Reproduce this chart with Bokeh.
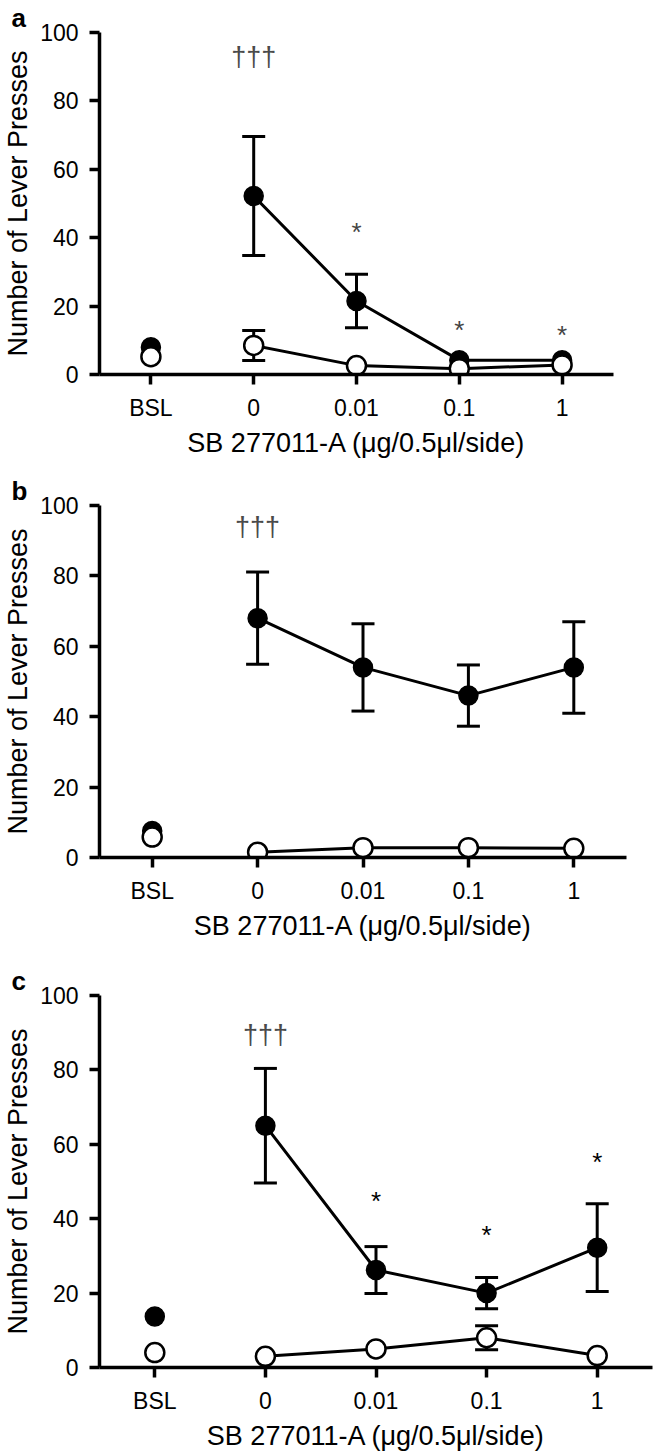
from bokeh.plotting import figure
from bokeh.models import (FactorRange, Range1d, Whisker, TeeHead, ColumnDataSource,
                          FixedTicker, Title)
from bokeh.layouts import column
from bokeh.core.properties import value
from bokeh.embed import file_html
from bokeh.resources import INLINE

FONT = "Liberation Sans"

categories = ["BSL", "0", "0.01", "0.1", "1"]
doses = ["0", "0.01", "0.1", "1"]
y_ticks = [0, 20, 40, 60, 80, 100]
x_label = "SB 277011-A (\u03bcg/0.5\u03bcl/side)"
y_label = "Number of Lever Presses"

# Panel a
a_bsl_filled = 8.0
a_bsl_open = 5.2
a_filled = [52.2, 21.5, 4.2, 4.2]
a_filled_sem = [17.4, 7.8, 0, 0]
a_open = [8.5, 2.6, 1.7, 2.8]
a_open_sem = [4.4, 0, 0, 0]
a_stars = ["0.01", "0.1", "1"]
a_stars_y = [42.4, 13.8, 12.3]
a_dagger_y = 94.0

# Panel b
b_bsl_filled = 7.5
b_bsl_open = 5.8
b_filled = [68.0, 54.0, 46.0, 54.0]
b_filled_sem = [13.1, 12.4, 8.7, 13.0]
b_open = [1.5, 2.8, 2.8, 2.6]
b_open_sem = [0, 0, 0, 0]
b_stars = []
b_stars_y = []
b_dagger_y = 95.0

# Panel c
c_bsl_filled = 13.7
c_bsl_open = 4.0
c_filled = [65.0, 26.2, 20.0, 32.2]
c_filled_sem = [15.4, 6.3, 4.2, 11.8]
c_open = [3.0, 5.0, 8.0, 3.2]
c_open_sem = [0, 0, 3.2, 0]
c_stars = ["0.01", "0.1", "1"]
c_stars_y = [45.6, 36.4, 56.0]
c_dagger_y = 90.5


def panel(letter, bsl_f, bsl_o, filled, filled_sem, opened, open_sem,
          stars, stars_y, dagger_y, star_color, W, H, top, right, bottom):
    p = figure(x_range=FactorRange(*categories, range_padding=0),
               y_range=Range1d(0, 100), width=W, height=H,
               output_backend="svg", toolbar_location=None,
               min_border_left=97, min_border_right=right,
               min_border_top=top, min_border_bottom=bottom)
    p.outline_line_color = None
    p.grid.visible = False
    p.background_fill_color = "white"
    p.border_fill_color = "white"

    for ax in (p.xaxis[0], p.yaxis[0]):
        ax.axis_line_width = 3.5
        ax.axis_line_color = "black"
        ax.major_tick_line_width = 3.5
        ax.major_tick_line_color = "black"
        ax.major_tick_out = 10
        ax.major_tick_in = 0
        ax.minor_tick_line_color = None
        ax.major_label_text_font = FONT
        ax.major_label_text_font_size = "23px"
        ax.major_label_text_color = "black"
        ax.axis_label_text_font = FONT
        ax.axis_label_text_font_style = "normal"
        ax.axis_label_text_color = "black"
    p.yaxis.ticker = FixedTicker(ticks=y_ticks)
    p.yaxis.axis_label = y_label
    p.yaxis.axis_label_text_font_size = "27px"
    p.yaxis.major_label_standoff = 11
    p.yaxis.axis_label_standoff = 4
    p.xaxis.axis_label = x_label
    p.xaxis.axis_label_text_font_size = "27px"
    p.xaxis.major_label_standoff = 10
    p.xaxis.axis_label_standoff = 4

    p.add_layout(Title(text=letter, align="left", offset=-88, standoff=0,
                       text_font=FONT, text_font_size="26px",
                       text_font_style="bold", text_color="black"), "above")

    # error bars (drawn underneath the markers)
    fe = [(d, m, s) for d, m, s in zip(doses, filled, filled_sem) if s > 0]
    oe = [(d, m, s) for d, m, s in zip(doses, opened, open_sem) if s > 0]
    for rows in (fe, oe):
        if not rows:
            continue
        src = ColumnDataSource(dict(x=[r[0] for r in rows],
                                    upper=[r[1] + r[2] for r in rows],
                                    lower=[r[1] - r[2] for r in rows]))
        w = Whisker(base="x", upper="upper", lower="lower", source=src,
                    line_width=3, line_color="black", level="underlay",
                    upper_head=TeeHead(size=23, line_width=3, line_color="black"),
                    lower_head=TeeHead(size=23, line_width=3, line_color="black"))
        p.add_layout(w)

    # lines
    p.line(doses, filled, line_width=3, line_color="black")
    p.line(doses, opened, line_width=3, line_color="black")

    # markers: filled first, open on top
    p.scatter(["BSL"] + doses, [bsl_f] + filled, size=19, fill_color="black",
              line_color="black", line_width=1.5)
    p.scatter(["BSL"] + doses, [bsl_o] + opened, size=19, fill_color="white",
              line_color="black", line_width=2.5)

    # significance marks
    if stars:
        p.text(x=stars, y=stars_y, text=["*"] * len(stars),
               text_font=value(FONT), text_font_size="26px",
               text_align="center", text_baseline="alphabetic", y_offset=3,
               text_color=star_color)
    p.text(x=["0"], y=[dagger_y], text=["\u2020\u2020\u2020"],
           text_font=value(FONT), text_font_size="27px",
           text_align="center", text_baseline="alphabetic", y_offset=4,
           text_color="#4a4a4a")
    return p


pa = panel("a", a_bsl_filled, a_bsl_open, a_filled, a_filled_sem, a_open, a_open_sem,
           a_stars, a_stars_y, a_dagger_y, "#444444", 618, 473, 32, 5, 99)
pb = panel("b", b_bsl_filled, b_bsl_open, b_filled, b_filled_sem, b_open, b_open_sem,
           b_stars, b_stars_y, b_dagger_y, "black", 631, 490, 32, 5, 106)
pc = panel("c", c_bsl_filled, c_bsl_open, c_filled, c_filled_sem, c_open, c_open_sem,
           c_stars, c_stars_y, c_dagger_y, "black", 657, 490, 32, 3, 86)

layout = column(pa, pb, pc, spacing=0)
open("out.html", "w").write(file_html(layout, INLINE))
